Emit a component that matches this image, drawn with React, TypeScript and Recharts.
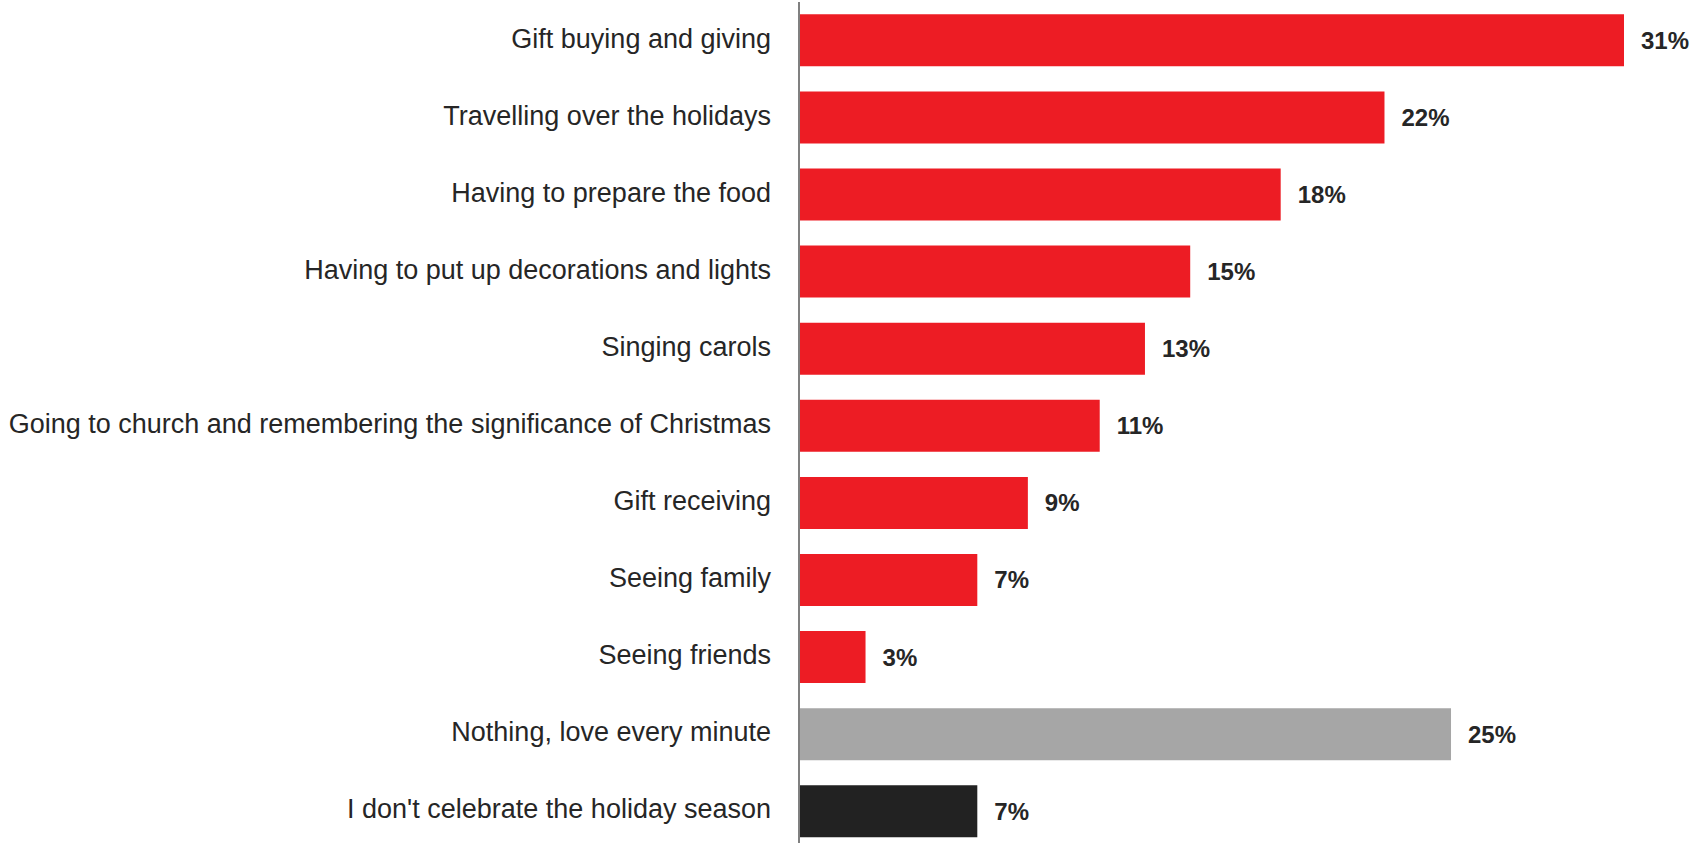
import React from 'react';
import { BarChart, Bar, XAxis, YAxis, Cell, LabelList } from 'recharts';

const categories = [
    'Gift buying and giving',
    'Travelling over the holidays',
    'Having to prepare the food',
    'Having to put up decorations and lights',
    'Singing carols',
    'Going to church and remembering the significance of Christmas',
    'Gift receiving',
    'Seeing family',
    'Seeing friends',
    'Nothing, love every minute',
    "I don't celebrate the holiday season",
];

// percentages
const values = [31, 22, 18.1, 14.7, 13, 11.3, 8.6, 6.7, 2.5, 24.5, 6.7];

const colors = [
    '#ED1C24', '#ED1C24', '#ED1C24', '#ED1C24', '#ED1C24', '#ED1C24',
    '#ED1C24', '#ED1C24', '#ED1C24', '#A6A6A6', '#222222',
];

const data = categories.map((name, i) => ({ name, value: values[i] }));

const CategoryTick = (props: any) => {
    const { x, y, payload } = props;
    return (
        <text
            x={x}
            y={y}
            dy={7}
            textAnchor="end"
            fill="#262626"
            fontSize={27}
            fontFamily="'Liberation Sans', Arial, sans-serif"
        >
            {payload.value}
        </text>
    );
};

export default function App() {
    return (
        <div style={{ position: 'absolute', left: 0, top: 0, width: 1695, height: 843, overflow: 'hidden', background: '#fff' }}>
            <BarChart
                width={1695}
                height={852}
                data={data}
                layout="vertical"
                margin={{ top: 2, right: 71, bottom: 2, left: 0 }}
                barCategoryGap="16%"
            >
                <XAxis type="number" domain={[0, 31]} hide />
                <YAxis
                    type="category"
                    dataKey="name"
                    width={799}
                    tickLine={false}
                    axisLine={{ stroke: '#808080', strokeWidth: 2 }}
                    tickMargin={22}
                    interval={0}
                    tick={<CategoryTick />}
                />
                <Bar dataKey="value" isAnimationActive={false}>
                    {data.map((d, i) => (
                        <Cell key={`cell-${i}`} fill={colors[i]} />
                    ))}
                    <LabelList
                        dataKey="value"
                        position="right"
                        offset={17}
                        formatter={(v: any) => `${Math.round(Number(v))}%`}
                        style={{ fontSize: 24, fontWeight: 'bold', fill: '#262626', fontFamily: "'Liberation Sans', Arial, sans-serif" }}
                    />
                </Bar>
            </BarChart>
        </div>
    );
}
